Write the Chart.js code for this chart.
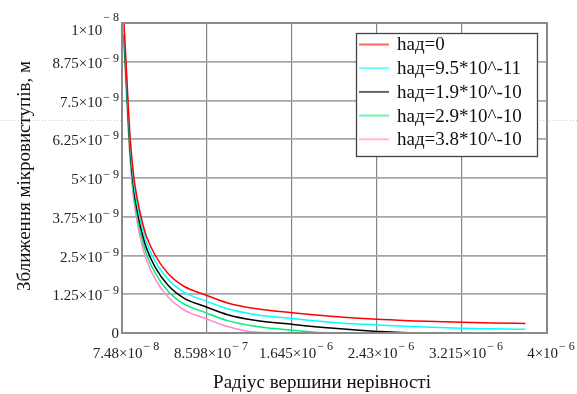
<!DOCTYPE html>
<html>
<head>
<meta charset="utf-8">
<script src="https://cdn.jsdelivr.net/npm/chart.js@4/dist/chart.umd.min.js"></script>
<style>
  html, body { margin: 0; padding: 0; background: #fff; }
  canvas { display: block; }
</style>
</head>
<body>
<canvas id="chart" width="577" height="394"></canvas>
<script>
// радіус вершини нерівності, м
const radius = [9.3e-8, 1.12e-7, 1.30e-7, 1.51e-7, 1.85e-7, 2.2e-7, 2.5e-7, 3.0e-7, 3.82e-7, 5.0e-7, 6.5e-7,
                8.3e-7, 1.05e-6, 1.3e-6, 1.645e-6, 2.0e-6, 2.43e-6, 2.8e-6, 3.215e-6, 3.5e-6, 3.8e-6];

// зближення мікровиступів, нм (x1e-9 м)
const had0   = [10.0, 8.75, 7.5, 6.25, 5.0, 4.25, 3.75, 3.12, 2.5, 1.92, 1.5, 1.25, 0.97, 0.79, 0.655, 0.54, 0.44, 0.39, 0.345, 0.325, 0.31];
const had095 = [9.81, 8.56, 7.31, 6.06, 4.81, 4.06, 3.56, 2.93, 2.31, 1.73, 1.31, 1.06, 0.78, 0.60, 0.47, 0.35, 0.26, 0.20, 0.155, 0.135, 0.12];
const had19  = [9.62, 8.37, 7.12, 5.87, 4.62, 3.87, 3.37, 2.74, 2.12, 1.54, 1.12, 0.87, 0.59, 0.41, 0.28, 0.16, 0.05, 0, 0, 0, 0];
const had29  = [9.43, 8.18, 6.93, 5.68, 4.43, 3.68, 3.18, 2.55, 1.93, 1.35, 0.93, 0.68, 0.40, 0.22, 0.09, 0, 0, 0, 0, 0, 0];
const had38  = [9.24, 7.99, 6.74, 5.49, 4.24, 3.49, 2.99, 2.36, 1.74, 1.16, 0.74, 0.49, 0.21, 0.03, 0, 0, 0, 0, 0, 0, 0];

const seriesLabels = ['hад=0', 'hад=9.5*10^-11', 'hад=1.9*10^-10', 'hад=2.9*10^-10', 'hад=3.8*10^-10'];
const seriesColors = ['#ff0000', '#00ffff', '#000000', '#00ee77', '#ff88cc'];

// підписи осей
const xTicks = [7.48e-8, 8.598e-7, 1.645e-6, 2.43e-6, 3.215e-6, 4e-6];
const xTickBase = ['7.48×10', '8.598×10', '1.645×10', '2.43×10', '3.215×10', '4×10'];
const xTickExp = ['\u2212 8', '\u2212 7', '\u2212 6', '\u2212 6', '\u2212 6', '\u2212 6'];
const yTicks = [0, 1.25e-9, 2.5e-9, 3.75e-9, 5e-9, 6.25e-9, 7.5e-9, 8.75e-9, 1e-8];
const yTickBase = ['0', '1.25×10', '2.5×10', '3.75×10', '5×10', '6.25×10', '7.5×10', '8.75×10', '1×10'];
const yTickExp = ['', '\u2212 9', '\u2212 9', '\u2212 9', '\u2212 9', '\u2212 9', '\u2212 9', '\u2212 9', '\u2212 8'];
const xTitle = 'Радіус вершини нерівності';
const yTitle = 'Зближення мікровиступів, м';

const NM = 1e-9;
const FONT = '"Liberation Serif", "Times New Roman", serif';

const datasets = [had0, had095, had19, had29, had38].map((vals, k) => ({
    label: seriesLabels[k],
    data: radius.map((r, i) => ({ x: r, y: vals[i] * NM })),
    borderColor: seriesColors[k],
    borderWidth: 1.5,
    pointRadius: 0,
    fill: false,
    cubicInterpolationMode: 'monotone'
}));

// підписи, рамка і легенда малюються тут
const decor = {
    id: 'decor',
    beforeDraw(chart) {
        const ctx = chart.ctx;
        ctx.save();
        ctx.fillStyle = '#fff';
        ctx.fillRect(0, 0, chart.width, chart.height);
        ctx.strokeStyle = '#cfcfcf';
        ctx.lineWidth = 1;
        ctx.setLineDash([1, 2]);
        ctx.beginPath();
        ctx.moveTo(0, 120.5); ctx.lineTo(122, 120.5);
        ctx.moveTo(537, 120.5); ctx.lineTo(577, 120.5);
        ctx.stroke();
        ctx.restore();
    },
    afterDraw(chart) {
        const ctx = chart.ctx;
        const xs = chart.scales.x, ys = chart.scales.y, a = chart.chartArea;
        const baseFont = '15px ' + FONT, expFont = '12px ' + FONT;
        ctx.save();

        // рамка
        ctx.strokeStyle = '#8a8a8a';
        ctx.lineWidth = 2;
        ctx.strokeRect(a.left, a.top, a.right - a.left, a.bottom - a.top);

        ctx.fillStyle = '#222';
        ctx.textAlign = 'left';
        ctx.textBaseline = 'alphabetic';

        // підписи осі x
        xTicks.forEach((v, i) => {
            const px = xs.getPixelForValue(v);
            ctx.font = baseFont;
            const wb = ctx.measureText(xTickBase[i]).width;
            ctx.font = expFont;
            const we = ctx.measureText(xTickExp[i]).width;
            const left = px + 4 - (wb + we + 1) / 2;
            ctx.font = baseFont;
            ctx.fillText(xTickBase[i], left, a.bottom + 25);
            ctx.font = expFont;
            ctx.fillText(xTickExp[i], left + wb + 1, a.bottom + 17);
        });

        // підписи осі y
        yTicks.forEach((v, i) => {
            const py = ys.getPixelForValue(v);
            const right = 119;
            ctx.font = expFont;
            const we = yTickExp[i] ? ctx.measureText(yTickExp[i]).width + 1 : 0;
            ctx.font = baseFont;
            ctx.textAlign = 'right';
            const base = i === yTicks.length - 1 ? py + 12 : py + 6;
            ctx.fillText(yTickBase[i], right - we, yTickExp[i] ? base : py + 5);
            if (yTickExp[i]) {
                ctx.font = expFont;
                ctx.fillText(yTickExp[i], right, i === yTicks.length - 1 ? py - 2 : py);
            }
        });

        // назви осей
        ctx.fillStyle = '#111';
        ctx.font = '19px ' + FONT;
        ctx.textAlign = 'center';
        ctx.textBaseline = 'middle';
        ctx.fillText(xTitle, 322, 383);
        ctx.translate(25, 176);
        ctx.rotate(-Math.PI / 2);
        ctx.fillText(yTitle, 0, 0);
        ctx.setTransform(1, 0, 0, 1, 0, 0);

        // легенда
        const lx = 356, ly = 33, lw = 181, lh = 123;
        ctx.fillStyle = '#fff';
        ctx.fillRect(lx, ly, lw, lh);
        ctx.strokeStyle = '#444';
        ctx.lineWidth = 1.3;
        ctx.strokeRect(lx + 0.5, ly + 0.5, lw, lh);
        ctx.font = '19px ' + FONT;
        ctx.textAlign = 'left';
        ctx.textBaseline = 'middle';
        chart.data.datasets.forEach((ds, i) => {
            const cy = 44.5 + i * 23.7;
            ctx.globalAlpha = 0.6;
            ctx.strokeStyle = ds.borderColor;
            ctx.lineWidth = 2;
            ctx.beginPath();
            ctx.moveTo(359, cy);
            ctx.lineTo(389, cy);
            ctx.stroke();
            ctx.globalAlpha = 1;
            ctx.fillStyle = '#111';
            ctx.fillText(ds.label, 397, cy + 1);
        });
        ctx.restore();
    }
};

const ctx = document.getElementById('chart').getContext('2d');
const chart = new Chart(ctx, {
    type: 'line',
    data: { datasets: datasets },
    options: {
        responsive: false,
        animation: false,
        layout: { padding: { left: 122, top: 23, right: 30, bottom: 61 } },
        plugins: { legend: { display: false }, tooltip: { enabled: false } },
        scales: {
            x: {
                type: 'linear',
                min: xTicks[0],
                max: xTicks[xTicks.length - 1],
                afterBuildTicks: s => { s.ticks = xTicks.map(v => ({ value: v })); },
                ticks: { display: false },
                grid: { color: '#858585', lineWidth: 1.2, drawTicks: false },
                border: { color: '#8a8a8a', width: 2, z: 1 }
            },
            y: {
                min: yTicks[0],
                max: yTicks[yTicks.length - 1],
                afterBuildTicks: s => { s.ticks = yTicks.map(v => ({ value: v })); },
                ticks: { display: false },
                grid: { color: '#a6a6a6', lineWidth: 1.8, drawTicks: false },
                border: { color: '#8a8a8a', width: 2, z: 1 }
            }
        }
    },
    plugins: [decor]
});
</script>
</body>
</html>
